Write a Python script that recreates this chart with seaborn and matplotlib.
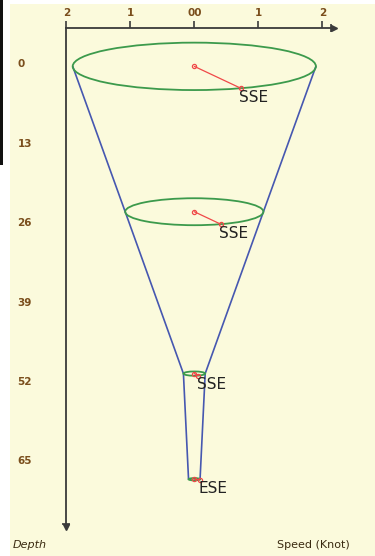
import numpy as np
import pandas as pd
import matplotlib
matplotlib.use("Agg")
import matplotlib.pyplot as plt
import matplotlib.transforms as mtransforms
from matplotlib.patches import Ellipse, Rectangle
import seaborn as sns

# ---- data ----
depths = [0.5, 24.3, 50.8, 68.1]          # m
speeds = [1.90, 1.08, 0.17, 0.09]         # knots
directions = ["SSE", "SSE", "SSE", "ESE"]
compass = {"N": 0, "NNE": 22.5, "NE": 45, "ENE": 67.5, "E": 90, "ESE": 112.5,
           "SE": 135, "SSE": 157.5, "S": 180, "SSW": 202.5, "SW": 225,
           "WSW": 247.5, "W": 270, "WNW": 292.5, "NW": 315, "NNW": 337.5}
x_ticks = [-2, -1, 0, 1, 2]
x_ticklabels = ["2", "1", "00", "1", "2"]
y_ticks = [0, 13, 26, 39, 52, 65]

sns.set_theme(style="white")
plt.rcParams["font.family"] = ["DejaVu Sans"]

W, H = 375, 556
fig = plt.figure(figsize=(W / 100, H / 100), dpi=100, facecolor="white")

# background panel and left black bar
fig.patches.append(Rectangle((10 / W, 0), (W - 10) / W, (H - 4) / H,
                             transform=fig.transFigure, facecolor="#fbfadc",
                             edgecolor="none", zorder=-10))
fig.patches.append(Rectangle((0, (H - 165) / H), 3 / W, 165 / H,
                             transform=fig.transFigure, facecolor="#111111",
                             edgecolor="none", zorder=-9))

# axes geometry (pixels)
ax_left, ax_right, ax_top, ax_bottom = 66, 331, 28, 524
ax = fig.add_axes([ax_left / W, (H - ax_bottom) / H,
                   (ax_right - ax_left) / W, (ax_bottom - ax_top) / H])
ax.set_facecolor("none")

cx_px, unit_x = 194.3, 64.0
y0_px, unit_y = 63.3, 6.108
ax.set_xlim((ax_left - cx_px) / unit_x, (ax_right - cx_px) / unit_x)
ax.set_ylim((ax_bottom - y0_px) / unit_y, (ax_top - y0_px) / unit_y)

# perspective ratio of ellipses (vertical px / horizontal px)
ratio = 0.195
vscale = unit_x * ratio / unit_y  # depth units per knot

green, blue, red = "#3c9a4c", "#4657b0", "#f04848"

# funnel edges
left_df = pd.DataFrame({"x": [-s for s in speeds], "y": depths})
right_df = pd.DataFrame({"x": speeds, "y": depths})
sns.lineplot(data=left_df, x="x", y="y", sort=False, color=blue, lw=1.2, ax=ax, zorder=2)
sns.lineplot(data=right_df, x="x", y="y", sort=False, color=blue, lw=1.2, ax=ax, zorder=2)

for d, s, dname in zip(depths, speeds, directions):
    ax.add_patch(Ellipse((0, d), 2 * s, 2 * s * vscale, facecolor="none",
                         edgecolor=green, lw=1.3, zorder=3))
    ang = np.deg2rad(compass[dname])
    ex = s * np.sin(ang)
    ey = d - np.cos(ang) * s * vscale
    ax.plot([0, ex], [d, ey], color=red, lw=0.9, marker="o", ms=3,
            mfc="none", mec=red, mew=0.9, zorder=4)
    ax.annotate(dname, (ex, ey), xytext=(-1, -1), textcoords="offset points",
                ha="left", va="top", fontsize=11, color="#222222", zorder=5)

# axes styling
for sp in ["right", "bottom"]:
    ax.spines[sp].set_visible(False)
for sp in ["left", "top"]:
    ax.spines[sp].set_color("#3a3a3a")
    ax.spines[sp].set_linewidth(1.3)

ax.xaxis.set_ticks_position("top")
ax.set_xticks(x_ticks)
ax.set_xticklabels(x_ticklabels)
ax.set_yticks(y_ticks)
ax.set_yticklabels([str(v) for v in y_ticks])
tick_col = "#7a4e1c"
ax.tick_params(axis="x", direction="out", length=5, width=1.2, color="#3a3a3a",
               pad=2, labelsize=7.5, labelcolor=tick_col)
ax.tick_params(axis="y", direction="out", length=5, width=1.2, color="#3a3a3a",
               pad=30, labelsize=7.5, labelcolor=tick_col)
for t in ax.get_xticklabels() + ax.get_yticklabels():
    t.set_fontweight("bold")
for t in ax.get_yticklabels():
    t.set_horizontalalignment("left")
ax.set_xlabel("")
ax.set_ylabel("")
ax.grid(False)

# arrow heads at ends of axes ("|>" style): bar at the end, triangle just beyond
ac = "#3a3a3a"
ax.plot([1.0], [1.0], marker="|", ms=6, mew=1.2, color=ac,
        transform=ax.transAxes, clip_on=False, zorder=6)
tr_r = mtransforms.offset_copy(ax.transAxes, fig=fig, x=2.2, y=0, units="points")
ax.plot([1.0], [1.0], marker=">", ms=5, color=ac, transform=tr_r,
        clip_on=False, zorder=6)
ax.plot([0.0], [0.0], marker="_", ms=6, mew=1.2, color=ac,
        transform=ax.transAxes, clip_on=False, zorder=6)
tr_b = mtransforms.offset_copy(ax.transAxes, fig=fig, x=0, y=-2.2, units="points")
ax.plot([0.0], [0.0], marker="v", ms=5, color=ac, transform=tr_b,
        clip_on=False, zorder=6)

fig.text(13 / W, 1 - 545 / H, "Depth", fontsize=8, style="italic",
         color="#3a2a10", va="center", ha="left")
fig.text(350 / W, 1 - 545 / H, "Speed (Knot)", fontsize=8,
         color="#3a2a10", va="center", ha="right")

fig.savefig("out.png", dpi=100, facecolor="white")
